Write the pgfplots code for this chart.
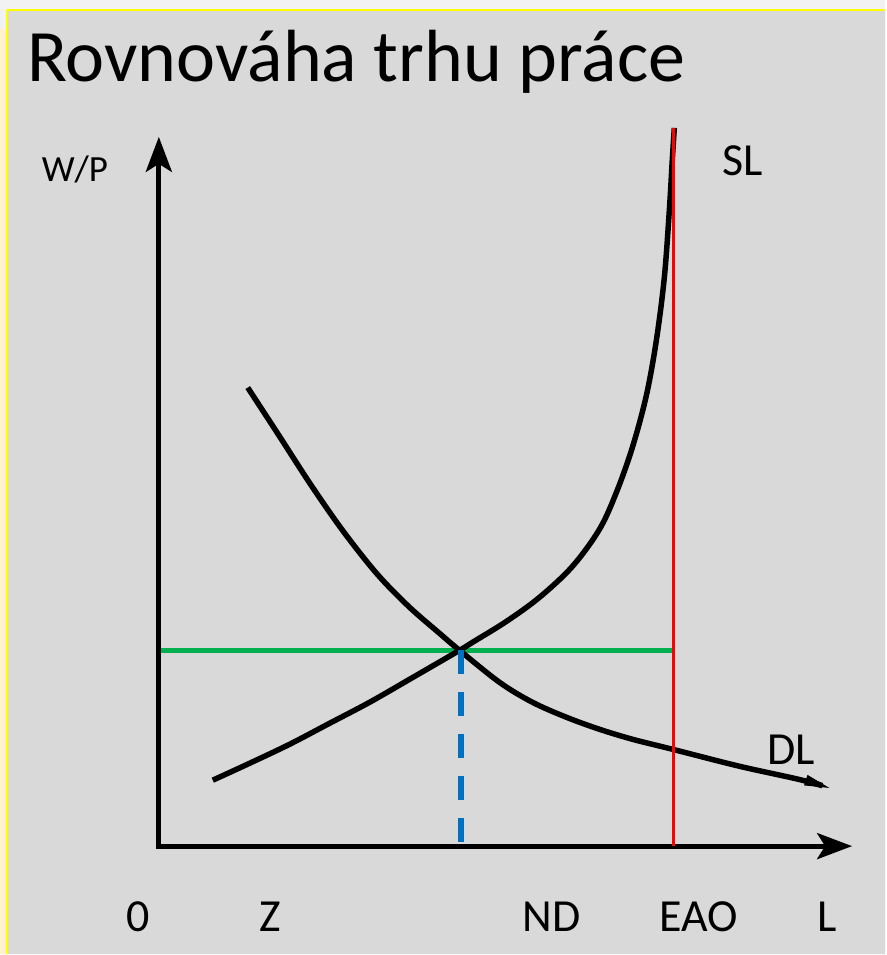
\documentclass[border=0pt]{standalone}
\usepackage{pgfplots}
\pgfplotsset{compat=1.18}
\usepackage{fontspec}
\setmainfont{Carlito}
\usetikzlibrary{arrows.meta}
\definecolor{outer}{HTML}{F2F2F2}
\definecolor{lyel}{HTML}{FFF2CC}
\definecolor{panel}{HTML}{D9D9D9}
\definecolor{ggreen}{HTML}{00B050}
\definecolor{bblue}{HTML}{0070C0}
\definecolor{bordery}{HTML}{FFFF00}
\begin{document}
\begin{tikzpicture}
\begin{axis}[x=1pt,y=1pt,xmin=0,xmax=886,ymin=0,ymax=955,y dir=reverse,
  hide axis,clip=false,scale only axis]
% backgrounds
\addplot[draw=none,fill=outer] coordinates {(0,0)(886,0)(886,955)(0,955)(0,0)};
\addplot[draw=none,fill=lyel] coordinates {(0,29)(8,29)(8,955)(0,955)(0,29)};
\addplot[draw=none,fill=panel] coordinates {(8,11)(886,11)(886,955)(8,955)(8,11)};
\addplot[draw=bordery,line width=2pt] coordinates {(7.5,955)(7.5,10.5)(886,10.5)};
% green wage line
\addplot[draw=ggreen,line width=5pt] coordinates {(160,651)(673,651)};
% DL
\addplot[black,line width=5.5pt,smooth,tension=0.55,-{Stealth[length=32pt,width=9pt,inset=0pt]}] coordinates {
(248,388)(278,434)(311,485)(343,531)(377,574)(409,607)(440,634)(460,651)
(500,683)(533,703)(567,718)(600,730)(633,740)(673,750)(740,767)(803,781)(837,791)};
% SL
\addplot[black,line width=5.5pt,smooth,tension=0.55] coordinates {
(213,781)(250,764)(290,745)(330,724)(370,703)(410,680)(460,651)
(473,643)(507,622)(540,598)(573,567)(600,530)(617,493)(633,448)(647,396)(657,341)
(665,278)(670,211)(673,160)(675,128)};
% blue dashed
\addplot[draw=bblue,line width=6pt,dash pattern=on 24pt off 18pt] coordinates {(461,651)(461,845)};
% axes
\addplot[black,line width=5pt,line join=miter,
  {Stealth[length=35pt,width=26pt,inset=8pt]}-{Stealth[length=35pt,width=26pt,inset=8pt]}]
  coordinates {(159,137)(159,847)(853,847)};
% red EAO line
\addplot[draw=red,line width=2.5pt] coordinates {(674,128)(674,847)};
% texts
\node[anchor=base west,inner sep=0,font=\fontsize{74}{80}\selectfont] at (axis cs:27,82) {Rovnováha trhu práce};
\node[anchor=base,inner sep=0,font=\fontsize{37}{40}\selectfont] at (axis cs:75,182) {W/P};
\node[anchor=base,inner sep=0,font=\fontsize{46}{50}\selectfont] at (axis cs:743,176) {SL};
\node[anchor=base,inner sep=0,font=\fontsize{46}{50}\selectfont] at (axis cs:792,765) {DL};
\node[anchor=base,inner sep=0,font=\fontsize{46}{50}\selectfont] at (axis cs:138,932) {0};
\node[anchor=base,inner sep=0,font=\fontsize{46}{50}\selectfont] at (axis cs:271,932) {Z};
\node[anchor=base,inner sep=0,font=\fontsize{46}{50}\selectfont] at (axis cs:552,932) {ND};
\node[anchor=base,inner sep=0,font=\fontsize{46}{50}\selectfont] at (axis cs:699,932) {EAO};
\node[anchor=base,inner sep=0,font=\fontsize{46}{50}\selectfont] at (axis cs:828,932) {L};
\end{axis}
\end{tikzpicture}
\end{document}
